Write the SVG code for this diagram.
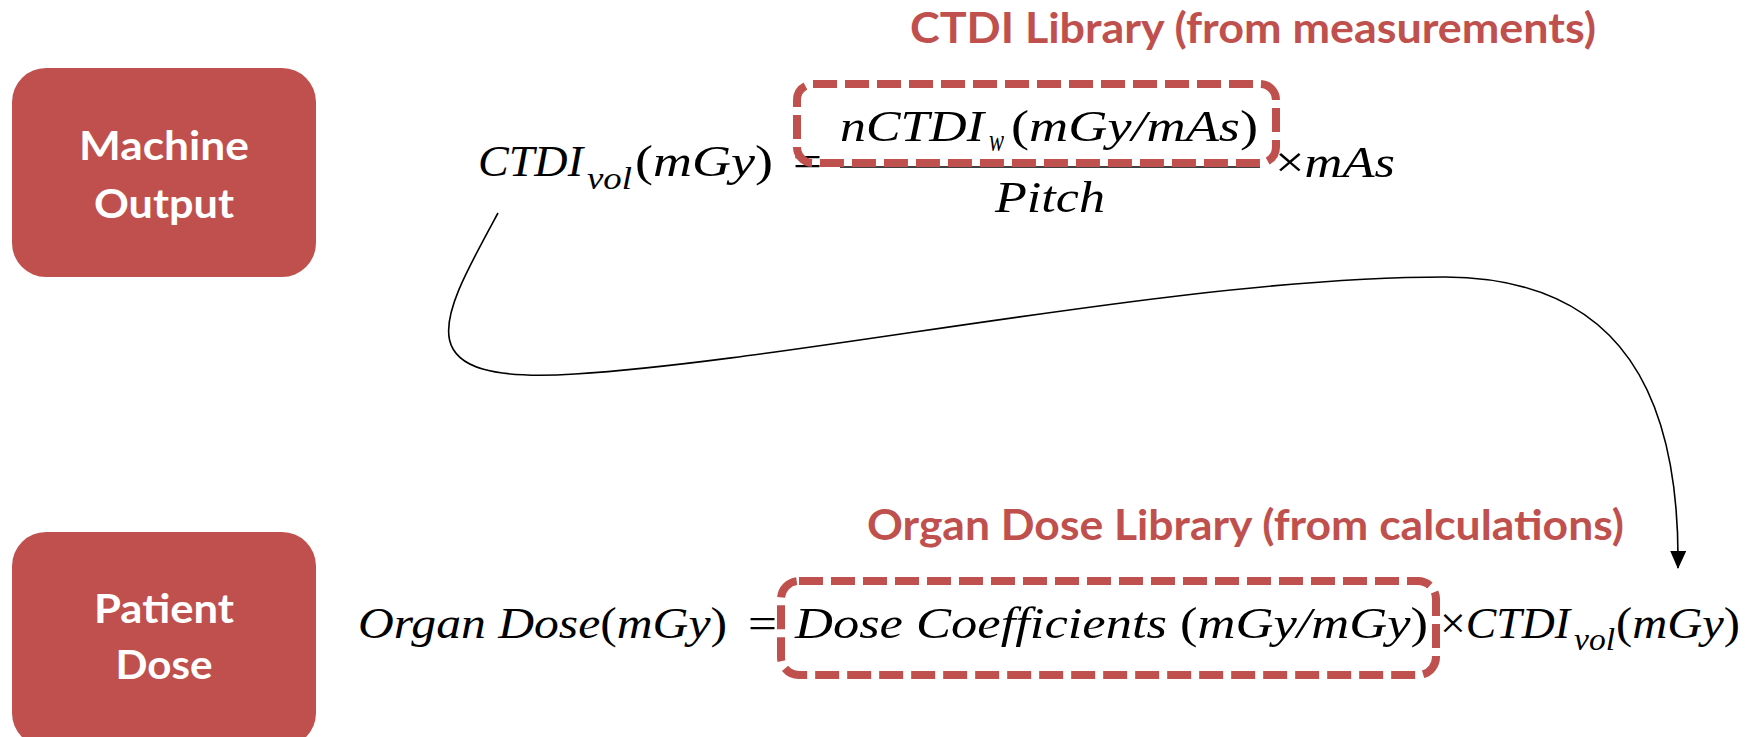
<svg xmlns="http://www.w3.org/2000/svg" width="1762" height="737" viewBox="0 0 1762 737">
<defs>
<style>
.node{fill:#C0504D;}
.nlabel{font-family:Lato,"Open Sans","Liberation Sans",sans-serif;font-weight:bold;font-size:40px;fill:#FFFFFF;text-anchor:middle;}
.hdr{font-family:Lato,"Open Sans","Liberation Sans",sans-serif;font-weight:bold;font-size:42px;fill:#C0504D;}
.math{font-family:"Liberation Serif","DejaVu Serif",serif;font-style:italic;font-size:45px;fill:#000000;}
.sub{font-family:"Liberation Serif","DejaVu Serif",serif;font-style:italic;font-size:32px;fill:#000000;}
.up{font-style:normal;}
.dash{fill:none;stroke:#C0504D;stroke-width:8;stroke-dasharray:24 8;}
.conn{fill:none;stroke:#000000;stroke-width:1.6;}
</style>
<marker id="arrowdown" markerWidth="18" markerHeight="16" refX="17" refY="8" orient="auto" markerUnits="userSpaceOnUse" viewBox="0 0 18 16">
<path d="M0,0 L18,8 L0,16 Z" fill="#000000"/>
</marker>
</defs>
<rect width="1762" height="737" fill="#FFFFFF"/>

<g id="node-machine-output">
<rect class="node" x="12" y="68" width="304" height="209" rx="34" ry="34"/>
<text class="nlabel" x="164" y="160" textLength="170" lengthAdjust="spacingAndGlyphs">Machine</text>
<text class="nlabel" x="164" y="218" textLength="140" lengthAdjust="spacingAndGlyphs">Output</text>
</g>

<g id="node-patient-dose">
<rect class="node" x="12" y="532" width="304" height="215" rx="34" ry="34"/>
<text class="nlabel" x="164" y="623" textLength="140" lengthAdjust="spacingAndGlyphs">Patient</text>
<text class="nlabel" x="164" y="679" textLength="97" lengthAdjust="spacingAndGlyphs">Dose</text>
</g>

<g id="label-ctdi-library">
<text class="hdr" x="910" y="43" textLength="686" lengthAdjust="spacingAndGlyphs">CTDI Library (from measurements)</text>
</g>

<g id="label-organ-dose-library">
<text class="hdr" x="867" y="540" textLength="757" lengthAdjust="spacingAndGlyphs">Organ Dose Library (from calculations)</text>
</g>

<g id="equation-ctdi">
<text class="math" x="478" y="176" textLength="105" lengthAdjust="spacingAndGlyphs">CTDI</text>
<text class="sub" x="587" y="189" textLength="45" lengthAdjust="spacingAndGlyphs">vol</text>
<text class="math" x="635" y="176" textLength="138" lengthAdjust="spacingAndGlyphs"><tspan class="up">(</tspan>mGy<tspan class="up">)</tspan></text>
<text class="math up" x="793" y="176" textLength="29" lengthAdjust="spacingAndGlyphs">=</text>
<text class="math" x="840" y="141" textLength="144" lengthAdjust="spacingAndGlyphs">nCTDI</text>
<text class="sub" x="989" y="151" textLength="15" lengthAdjust="spacingAndGlyphs">w</text>
<text class="math" x="1011" y="141" textLength="247" lengthAdjust="spacingAndGlyphs"><tspan class="up">(</tspan>mGy/mAs<tspan class="up">)</tspan></text>
<line x1="840" y1="167" x2="1260" y2="167" stroke="#000000" stroke-width="1.6"/>
<text class="math" x="995" y="212" textLength="110" lengthAdjust="spacingAndGlyphs">Pitch</text>
<text class="math" x="1275" y="177" textLength="120" lengthAdjust="spacingAndGlyphs"><tspan class="up">×</tspan>mAs</text>
</g>

<g id="box-ctdi-library">
<rect class="dash" x="797" y="84" width="479" height="79" rx="16" ry="16"/>
</g>

<g id="equation-organ-dose">
<text class="math" x="358" y="638" textLength="369" lengthAdjust="spacingAndGlyphs">Organ Dose<tspan class="up">(</tspan>mGy<tspan class="up">)</tspan></text>
<text class="math up" x="748" y="638" textLength="29" lengthAdjust="spacingAndGlyphs">=</text>
<text class="math" x="795" y="638" textLength="633" lengthAdjust="spacingAndGlyphs">Dose Coefficients <tspan class="up">(</tspan>mGy/mGy<tspan class="up">)</tspan></text>
<text class="math" x="1440" y="638" textLength="130" lengthAdjust="spacingAndGlyphs"><tspan class="up">×</tspan>CTDI</text>
<text class="sub" x="1574" y="650" textLength="41" lengthAdjust="spacingAndGlyphs">vol</text>
<text class="math" x="1616" y="638" textLength="124" lengthAdjust="spacingAndGlyphs"><tspan class="up">(</tspan>mGy<tspan class="up">)</tspan></text>
</g>

<g id="box-organ-dose-library">
<rect class="dash" x="781" y="581" width="655" height="94" rx="18" ry="18"/>
</g>

<g id="connectors">
<path class="conn" d="M498,213 C440,320 400,385 575,374 C800,360 1180,277 1445,277 C1625,278 1680,400 1678,568" marker-end="url(#arrowdown)"/>
</g>
</svg>
